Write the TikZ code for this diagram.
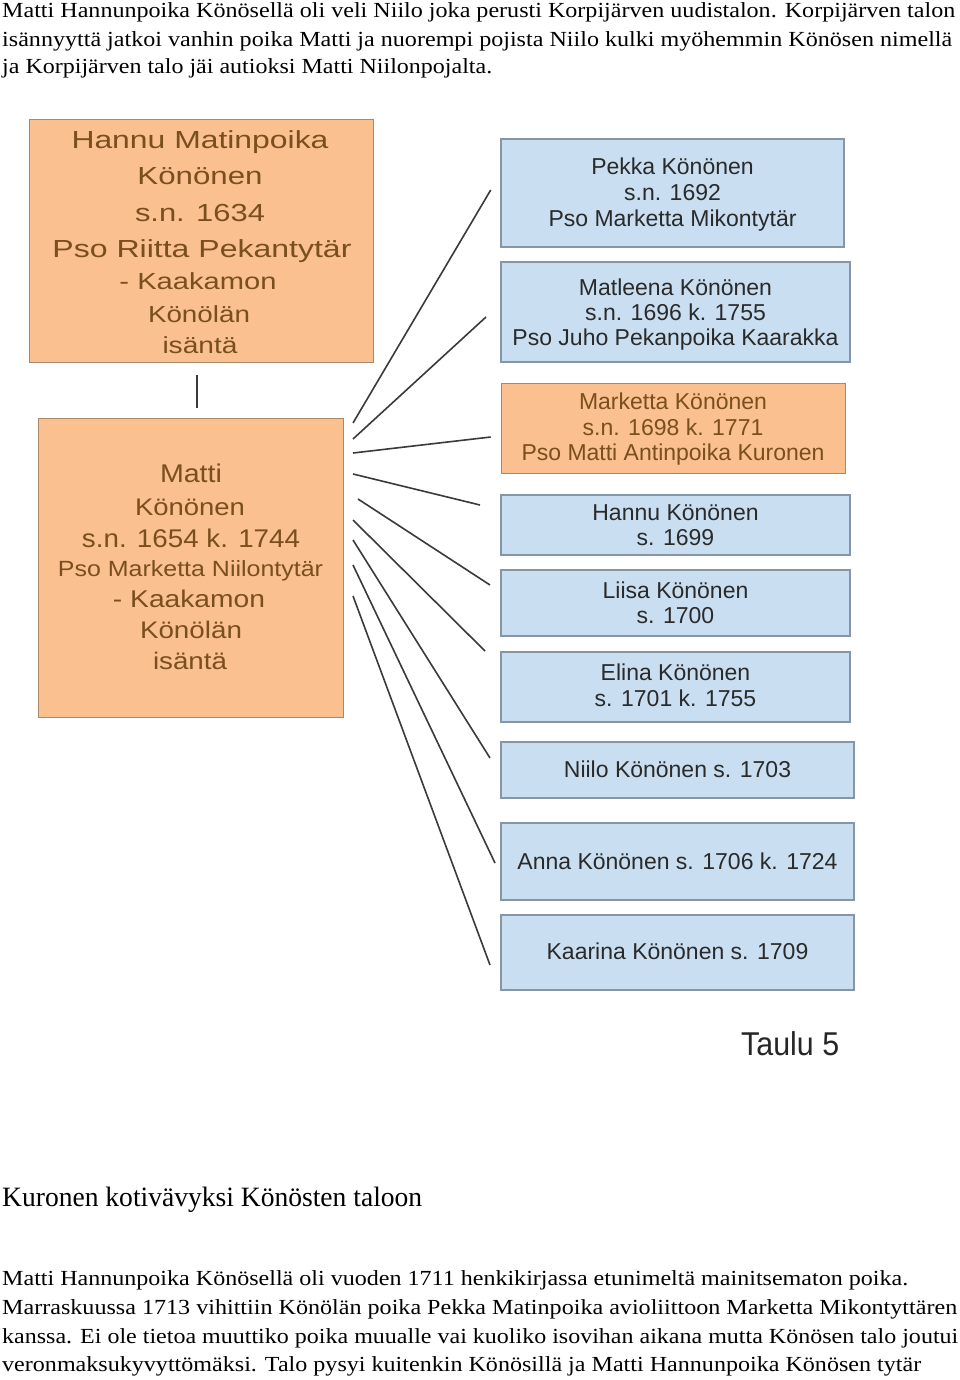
\documentclass[tikz,border=0pt]{standalone}
\usepackage{fontspec}
\usepackage{graphicx}
\setmainfont{Liberation Serif}
\newfontfamily\sansf{Liberation Sans}
\definecolor{ofill}{HTML}{FAC090}
\definecolor{oborder}{HTML}{A88868}
\definecolor{bfill}{HTML}{C9DFF1}
\definecolor{bborder}{HTML}{8796A5}
\definecolor{otxt}{HTML}{7A4E1E}
\definecolor{btxt}{HTML}{2A2A2A}
\definecolor{lcol}{HTML}{3A3A3A}
\newcommand{\Sz}[1]{\fontsize{#1}{#1}\selectfont}
\newcommand{\fitw}[2]{\resizebox{#1pt}{\height}{#2}}
\tikzset{
  obox/.style={draw=oborder, fill=ofill, line width=1pt, anchor=north west, inner sep=0pt, outer sep=0pt},
  bbox/.style={draw=bborder, fill=bfill, line width=1.2pt, anchor=north west, inner sep=0pt, outer sep=0pt},
  oline/.style={anchor=base, inner sep=0pt, text=otxt},
  bline/.style={anchor=base, inner sep=0pt, text=btxt, font=\sansf\Sz{23}},
  mline/.style={anchor=base, inner sep=0pt, text=otxt, font=\sansf\Sz{23}},
  para/.style={anchor=base west, inner sep=0pt, font=\Sz{21.5}, text=black},
  conn/.style={draw=lcol, line width=1.6pt}
}
\begin{document}
\begin{tikzpicture}[x=1pt,y=-1pt]
\useasboundingbox[fill=white] (0,0) rectangle (960,1380);

% top paragraph
\node[para] (t1) at (2,18) {\fitw{953}{Matti Hannunpoika Könösellä oli veli Niilo joka perusti Korpijärven uudistalon. Korpijärven talon}};
\node[para] (t2) at (2,47) {\fitw{950}{isännyyttä jatkoi vanhin poika Matti ja nuorempi pojista Niilo kulki myöhemmin Könösen nimellä}};
\node[para] (t3) at (2,74) {\fitw{490}{ja Korpijärven talo jäi autioksi Matti Niilonpojalta.}};

% left boxes
\node[obox, minimum width=344pt, minimum height=242pt] (hannu) at (29,120) {};
\node[obox, minimum width=305pt, minimum height=299pt] (matti) at (38,418) {};

\node[oline, font=\sansf\Sz{24.7}] (h1) at (200,149) {\fitw{257}{Hannu Matinpoika}};
\node[oline, font=\sansf\Sz{24.7}] (h2) at (200,185) {\fitw{125}{Könönen}};
\node[oline, font=\sansf\Sz{24.7}] (h3) at (200,222) {\fitw{130}{s.n. 1634}};
\node[oline, font=\sansf\Sz{24.7}] (h4) at (202,258) {\fitw{299}{Pso Riitta Pekantytär}};
\node[oline, font=\sansf\Sz{23.3}] (h5) at (198,289) {\fitw{157}{- Kaakamon}};
\node[oline, font=\sansf\Sz{23.3}] (h6) at (199,322) {\fitw{102}{Könölän}};
\node[oline, font=\sansf\Sz{23.3}] (h7) at (200,353) {\fitw{75}{isäntä}};

\node[oline, font=\sansf\Sz{25.6}] (m1) at (191,482) {\fitw{62}{Matti}};
\node[oline, font=\sansf\Sz{24}] (m2) at (190,515) {\fitw{110}{Könönen}};
\node[oline, font=\sansf\Sz{25.6}] (m3) at (191,547) {\fitw{218}{s.n. 1654 k. 1744}};
\node[oline, font=\sansf\Sz{22}] (m4) at (190.5,576) {\fitw{265}{Pso Marketta Niilontytär}};
\node[oline, font=\sansf\Sz{24.2}] (m5) at (189,607) {\fitw{152}{- Kaakamon}};
\node[oline, font=\sansf\Sz{24}] (m6) at (191,638) {\fitw{102}{Könölän}};
\node[oline, font=\sansf\Sz{24}] (m7) at (190,669) {\fitw{74}{isäntä}};

% vertical connector
\coordinate (v1) at (197,375);
\coordinate (v2) at (197,408);
\draw[conn] (v1) -- (v2);

% right boxes
\node[bbox, minimum width=343pt, minimum height=108pt] (pekka) at (501,139) {};
\node[bbox, minimum width=349pt, minimum height=100pt] (matleena) at (501,262) {};
\node[obox, minimum width=344pt, minimum height=90pt] (marketta) at (501,383) {};
\node[bbox, minimum width=349pt, minimum height=60pt] (hannuk) at (501,495) {};
\node[bbox, minimum width=349pt, minimum height=66pt] (liisa) at (501,570) {};
\node[bbox, minimum width=349pt, minimum height=70pt] (elina) at (501,652) {};
\node[bbox, minimum width=353pt, minimum height=56pt] (niilo) at (501,742) {};
\node[bbox, minimum width=353pt, minimum height=77pt] (anna) at (501,823) {};
\node[bbox, minimum width=353pt, minimum height=75pt] (kaarina) at (501,915) {};

\node[bline] (p1) at (672.5,175) {Pekka Könönen};
\node[bline] (p2) at (672.5,201) {s.n. 1692};
\node[bline] (p3) at (672.5,227) {Pso Marketta Mikontytär};

\node[bline] (q1) at (675.5,295) {Matleena Könönen};
\node[bline] (q2) at (675.5,320) {s.n. 1696 k. 1755};
\node[bline] (q3) at (675.5,345) {Pso Juho Pekanpoika Kaarakka};

\node[mline] (r1) at (673,409) {Marketta Könönen};
\node[mline] (r2) at (673,435) {s.n. 1698 k. 1771};
\node[mline] (r3) at (673,460) {Pso Matti Antinpoika Kuronen};

\node[bline] (k1) at (675.5,520) {Hannu Könönen};
\node[bline] (k2) at (675.5,545) {s. 1699};
\node[bline] (l1) at (675.5,598) {Liisa Könönen};
\node[bline] (l2) at (675.5,623) {s. 1700};
\node[bline] (e1t) at (675.5,680) {Elina Könönen};
\node[bline] (e2t) at (675.5,706) {s. 1701 k. 1755};
\node[bline] (n1) at (677.5,777) {Niilo Könönen s. 1703};
\node[bline] (a1) at (677.5,869) {Anna Könönen s. 1706 k. 1724};
\node[bline] (c1) at (677.5,959) {Kaarina Könönen s. 1709};

% fan connectors
\coordinate (s1) at (353,423); \coordinate (e1) at (490.7,190);
\coordinate (s2) at (353,439); \coordinate (e2) at (486,317);
\coordinate (s3) at (353,453); \coordinate (e3) at (490.7,437);
\coordinate (s4) at (353,474); \coordinate (e4) at (480,505);
\coordinate (s5) at (358,499); \coordinate (e5) at (490,585);
\coordinate (s6) at (353,520); \coordinate (e6) at (485,651);
\coordinate (s7) at (353,540); \coordinate (e7) at (490,758);
\coordinate (s8) at (353,565); \coordinate (e8) at (495,863);
\coordinate (s9) at (353,596); \coordinate (e9) at (490,965);
\foreach \i in {1,...,9} { \draw[conn] (s\i) -- (e\i); }

% caption
\node[anchor=base west, inner sep=0pt, font=\sansf\Sz{33}, text=black!85] (taulu) at (741,1055) {\fitw{98}{Taulu 5}};

% bottom text
\node[para, font=\Sz{28}] (hd) at (2,1206) {\fitw{420}{Kuronen kotivävyksi Könösten taloon}};
\node[para] (b1) at (2,1285) {\fitw{906}{Matti Hannunpoika Könösellä oli vuoden 1711 henkikirjassa etunimeltä mainitsematon poika.}};
\node[para] (b2) at (2,1314) {\fitw{955}{Marraskuussa 1713 vihittiin Könölän poika Pekka Matinpoika avioliittoon Marketta Mikontyttären}};
\node[para] (b3) at (2,1343) {\fitw{956}{kanssa. Ei ole tietoa muuttiko poika muualle vai kuoliko isovihan aikana mutta Könösen talo joutui}};
\node[para] (b4) at (2,1371) {\fitw{919}{veronmaksukyvyttömäksi. Talo pysyi kuitenkin Könösillä ja Matti Hannunpoika Könösen tytär}};
\end{tikzpicture}
\end{document}
